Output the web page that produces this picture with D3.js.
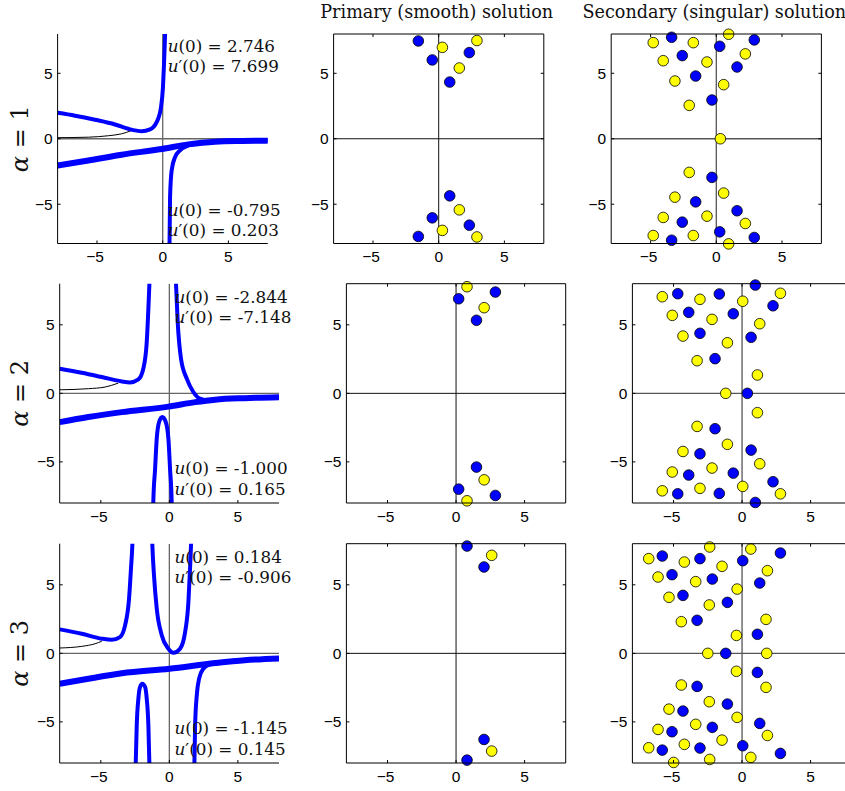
<!DOCTYPE html>
<html>
<head>
<meta charset="utf-8">
<script src="https://cdn.jsdelivr.net/npm/d3@7"></script>
<style>
  body { margin: 0; background: #fff; }
  svg { display: block; }
</style>
</head>
<body>
<div id="chart"></div>
<script>
// ---- data ---------------------------------------------------------
const TICKS = [-5, 0, 5];
const ALPHAS = [1, 2, 3];
const COL_TITLES = ["", "Primary (smooth) solution", "Secondary (singular) solution"];

// alpha = 1 : real-axis solutions
const a1Upper = [[-8,1.98],[-6.67,1.76],[-5.15,1.45],[-3.63,1.09],[-2.62,0.76],[-1.6,0.58],[-0.97,0.71],[-0.46,1.27],[-0.13,2.41],[0.02,3.94],[0.1,5.72],[0.18,8.0],[0.19,8.4]];
const a1Right = [[0.5,-8.4],[0.52,-8],[0.56,-4.46],[0.68,-2.42],[0.94,-1.4],[1.32,-0.89],[1.95,-0.51],[2.97,-0.31],[3.98,-0.22],[5.5,-0.17],[8,-0.14]];
const a1Lower = [[-8,-2.04],[-5.66,-1.66],[-3.12,-1.22],[-0.08,-0.78],[1.95,-0.43],[3,-0.3],[4,-0.22],[6,-0.17],[8,-0.15]];
const a1Thin  = [[-8,0.08],[-5.66,0.12],[-4.14,0.23],[-3.12,0.38],[-2.36,0.63]];

// alpha = 2
const a2Left  = [[-8,1.8],[-6.39,1.5],[-4.93,1.19],[-3.47,0.87],[-2.87,0.8],[-2.26,1.02],[-1.9,1.8],[-1.65,3.74],[-1.53,6.18],[-1.46,7.88],[-1.44,8.4]];
const a2Right = [[0.47,8.4],[0.49,7.88],[0.61,5.2],[0.85,2.53],[1.27,1.07],[1.75,0.1],[2.24,-0.39],[2.85,-0.51],[3.3,-0.47],[5,-0.36],[8,-0.29]];
const a2Arch  = [[-1.18,-8.4],[-1.17,-7.93],[-1.04,-5.5],[-0.92,-3.31],[-0.75,-2.1],[-0.51,-1.73],[-0.26,-2.1],[-0.07,-3.31],[0.05,-5.5],[0.17,-7.93],[0.18,-8.4]];
const a2Lower = [[-8,-2.1],[-5.91,-1.73],[-3.47,-1.37],[-0.07,-0.97],[1.88,-0.64],[3.34,-0.46],[5.5,-0.35],[8,-0.29]];
const a2Thin  = [[-8,0.26],[-5.91,0.34],[-4.69,0.46],[-3.72,0.75]];

// alpha = 3
const a3Left  = [[-8,1.75],[-6.39,1.43],[-4.93,1.07],[-4.2,0.99],[-3.6,1.19],[-3.23,2.04],[-2.94,3.99],[-2.8,6.18],[-2.7,7.88],[-2.68,8.4]];
const a3U     = [[-1.26,8.4],[-1.24,7.88],[-1.12,5.69],[-0.92,3.26],[-0.55,1.31],[-0.07,0.34],[0.29,0.04],[0.78,0.34],[1.15,1.55],[1.39,3.74],[1.51,6.18],[1.58,7.88],[1.6,8.4]];
const a3Arch  = [[-2.46,-8.4],[-2.45,-7.93],[-2.38,-5.26],[-2.26,-3.31],[-2.14,-2.46],[-1.97,-2.22],[-1.77,-2.46],[-1.65,-3.31],[-1.53,-5.26],[-1.46,-7.93],[-1.45,-8.4]];
const a3Right = [[1.82,-8.4],[1.83,-7.93],[1.88,-5.26],[2.0,-3.07],[2.17,-1.85],[2.48,-1.12],[2.97,-0.8],[3.34,-0.71],[5,-0.52],[8,-0.37]];
const a3Lower = [[-8,-2.22],[-5.91,-1.85],[-3.47,-1.45],[0,-1.12],[3.34,-0.71],[5.5,-0.5],[8,-0.37]];
const a3Thin  = [[-8,0.39],[-6.39,0.51],[-5.42,0.7],[-4.93,0.88]];

// initial values printed on the left panels
const initTop = [["2.746","7.699"], ["-2.844","-7.148"], ["0.184","-0.906"]];
const initBot = [["-0.795","0.203"], ["-1.000","0.165"], ["-1.145","0.145"]];

// complex-plane singularities (x = Re, y = Im)
const p1Blue   = [[-1.55,7.47],[-0.49,6.02],[2.33,6.58],[0.84,4.33],[0.84,-4.36],[-0.49,-6.04],[2.33,-6.6],[-1.55,-7.46]];
const p1Yellow = [[0.28,6.98],[2.91,7.5],[1.57,5.4],[1.57,-5.43],[0.28,-7.0],[2.91,-7.5]];
const s1Blue   = [[-3.4,7.75],[2.89,7.55],[0.26,7.06],[-2.59,6.35],[1.58,5.48],[-1.57,4.79],[-0.33,2.96],[-0.33,-2.95],[-1.57,-4.82],[1.58,-5.5],[-2.59,-6.37],[0.26,-7.11],[2.89,-7.54],[-3.4,-7.75]];
const s1Yellow = [[0.94,7.98],[-4.8,7.34],[-1.75,7.34],[2.21,6.48],[-4.04,5.96],[-0.71,5.86],[-3.15,4.41],[0.56,4.13],[-2.06,2.55],[0.31,0],[-2.06,-2.57],[0.56,-4.15],[-3.15,-4.46],[-4.04,-6.01],[-0.71,-5.91],[2.21,-6.47],[-4.8,-7.39],[-1.75,-7.39],[0.94,-8.03]];

const p2Blue   = [[0.19,6.9],[2.87,7.39],[1.49,5.33],[1.49,-5.38],[0.19,-6.99],[2.87,-7.45]];
const p2Yellow = [[0.8,7.78],[2.05,6.25],[2.05,-6.31],[0.8,-7.84]];
const s2Blue   = [[0.97,7.9],[-4.69,7.27],[-1.66,7.25],[2.26,6.39],[-3.89,5.91],[-0.64,5.81],[-3.07,4.38],[0.66,4.09],[-1.97,2.53],[0.39,0],[-1.97,-2.58],[0.66,-4.14],[-3.07,-4.41],[-3.89,-5.96],[-0.64,-5.82],[2.26,-6.45],[-4.69,-7.33],[-1.66,-7.3],[0.97,-7.96]];
const s2Yellow = [[-5.82,7.05],[-3.07,6.86],[0.05,6.72],[2.8,7.3],[-5.09,5.69],[-2.19,5.4],[1.29,5.08],[-4.31,4.18],[-1.07,3.69],[-3.28,2.38],[1.12,1.34],[-1.19,0],[1.12,-1.41],[-3.28,-2.41],[-1.07,-3.72],[-4.31,-4.24],[1.29,-5.14],[-2.19,-5.45],[-5.09,-5.74],[0.05,-6.79],[-5.82,-7.11],[-3.07,-6.93],[2.8,-7.33]];

const p3Blue   = [[0.8,7.83],[2.04,6.3],[2.04,-6.28],[0.8,-7.79]];
const p3Yellow = [[2.6,7.15],[2.6,-7.13]];
const s3Blue   = [[-5.82,7.1],[-3.07,6.91],[0.05,6.76],[2.8,7.32],[-5.11,5.74],[-2.17,5.42],[1.29,5.13],[-4.31,4.23],[-1.07,3.72],[-3.28,2.41],[1.12,1.39],[-1.19,0],[1.12,-1.39],[-3.28,-2.41],[-1.07,-3.7],[-4.31,-4.21],[1.29,-5.11],[-2.17,-5.4],[-5.11,-5.72],[-5.82,-7.06],[-3.07,-6.91],[0.05,-6.74],[2.8,-7.3]];
const s3Yellow = [[-2.36,7.76],[0.64,7.61],[-6.81,6.91],[-4.21,6.66],[-1.46,6.35],[1.85,6.03],[-6.13,5.57],[-3.38,5.23],[-0.36,4.69],[-5.33,4.09],[-2.39,3.53],[1.75,2.48],[-4.43,2.31],[-0.41,1.31],[-2.5,0],[1.8,0],[-0.41,-1.31],[-4.43,-2.31],[1.75,-2.48],[-2.39,-3.53],[-5.33,-4.07],[-0.36,-4.67],[-3.38,-5.18],[-6.13,-5.55],[1.85,-5.99],[-1.46,-6.33],[-6.81,-6.89],[-4.21,-6.64],[0.64,-7.59],[-2.36,-7.74],[-4.99,-7.96]];

const realCurves = [
  { thick: [a1Lower], branches: [a1Upper, a1Right], thin: a1Thin },
  { thick: [a2Lower], branches: [a2Left, a2Right, a2Arch], thin: a2Thin },
  { thick: [a3Lower], branches: [a3Left, a3U, a3Arch, a3Right], thin: a3Thin }
];
const poles = [
  [{ blue: p1Blue, yellow: p1Yellow }, { blue: s1Blue, yellow: s1Yellow }],
  [{ blue: p2Blue, yellow: p2Yellow }, { blue: s2Blue, yellow: s2Yellow }],
  [{ blue: p3Blue, yellow: p3Yellow }, { blue: s3Blue, yellow: s3Yellow }]
];

// ---- layout ---------------------------------------------------------
const W = 845, H = 791;
// pixel boxes of each panel: [x0, x1] per column, [y0, y1] per row
const rowBox = [[34, 243.5], [283.7, 503], [543.7, 763]];
const colBox = [
  [[57.6, 267.8], [333.6, 543.8], [611.2, 821.4]],
  [[59.7, 279],   [346.4, 565.7], [632.4, 851.7]],
  [[59.7, 279],   [346.4, 565.7], [632.4, 851.7]]
];

const BLUE = "#0000ff", YELLOW = "#ffff00";
const TICK_FONT = "'Liberation Sans', Arial, sans-serif";
const MATH_FONT = "'DejaVu Serif', serif";

const svg = d3.select("#chart").append("svg")
  .attr("width", W).attr("height", H)
  .attr("viewBox", `0 0 ${W} ${H}`);

const defs = svg.append("defs");

// column titles
[1, 2].forEach(c => {
  const [x0, x1] = colBox[0][c];
  svg.append("text")
    .attr("x", (x0 + x1) / 2 - 2).attr("y", 18)
    .attr("text-anchor", "middle")
    .attr("font-family", MATH_FONT).attr("font-size", 17.6)
    .attr("fill", "#111")
    .text(COL_TITLES[c]);
});

function axes(g, x, y, boxed) {
  const [x0, x1] = x.range(), [y1, y0] = y.range();
  const line = (a, b, c, d, col = "#000", w = 1) =>
    g.append("line").attr("x1", a).attr("y1", b).attr("x2", c).attr("y2", d)
      .attr("stroke", col).attr("stroke-width", w);

  // spines
  line(x0, y0, x0, y1); line(x0, y1, x1, y1);
  if (boxed) { line(x0, y0, x1, y0); line(x1, y0, x1, y1); }

  // inward ticks
  TICKS.forEach(t => {
    line(x(t), y1, x(t), y1 - 3);
    line(x0, y(t), x0 + 3, y(t));
    if (boxed) { line(x(t), y0, x(t), y0 + 3); line(x1, y(t), x1 - 3, y(t)); }
  });

  // tick labels
  const fmt = t => t < 0 ? "\u2212" + Math.abs(t) : String(t);
  g.selectAll(".xl").data(TICKS).join("text")
    .attr("x", t => x(t) - (t < 0 ? 2 : 0)).attr("y", y1 + 18.5)
    .attr("text-anchor", "middle")
    .attr("font-family", TICK_FONT).attr("font-size", 15.5)
    .text(fmt);
  g.selectAll(".yl").data(TICKS).join("text")
    .attr("x", x0 - 5).attr("y", t => y(t) + 5.5)
    .attr("text-anchor", "end")
    .attr("font-family", TICK_FONT).attr("font-size", 15.5)
    .text(fmt);
}

function mathLabel(g, x, y, prime, value) {
  const t = g.append("text").attr("x", x).attr("y", y)
    .attr("font-family", MATH_FONT).attr("font-size", 16.8).attr("fill", "#111");
  t.append("tspan").attr("font-style", "italic").text("u");
  t.append("tspan").text((prime ? "\u2032" : "") + "(0) = " + value);
}

ALPHAS.forEach((alpha, r) => {
  const [py0, py1] = rowBox[r];

  // row label, rotated
  svg.append("text")
    .attr("transform", `translate(28,${(py0 + py1) / 2}) rotate(-90)`)
    .attr("text-anchor", "middle")
    .attr("font-family", MATH_FONT).attr("font-size", 24)
    .attr("fill", "#111")
    .html(`<tspan font-style="italic">α</tspan> = ${alpha}`);

  [0, 1, 2].forEach(c => {
    const [px0, px1] = colBox[r][c];
    const x = d3.scaleLinear([-8, 8], [px0, px1]);
    const y = d3.scaleLinear([-8, 8], [py1, py0]);
    const g = svg.append("g");

    const clipId = `clip-${r}-${c}`;
    defs.append("clipPath").attr("id", clipId).append("rect")
      .attr("x", px0).attr("y", py0).attr("width", px1 - px0).attr("height", py1 - py0);
    const plot = g.append("g").attr("clip-path", `url(#${clipId})`);

    // zero lines
    const zc = c === 0 ? "#666" : (c === 1 ? "#111" : "#555");
    const zw = c === 1 ? 1 : 1.3;
    plot.append("line").attr("x1", px0).attr("x2", px1).attr("y1", y(0)).attr("y2", y(0))
      .attr("stroke", zc).attr("stroke-width", zw);
    plot.append("line").attr("x1", x(0)).attr("x2", x(0)).attr("y1", py0).attr("y2", py1)
      .attr("stroke", zc).attr("stroke-width", zw);

    if (c === 0) {
      const rc = realCurves[r];
      const line = d3.line().x(d => x(d[0])).y(d => y(d[1])).curve(d3.curveMonotoneX);
      plot.append("path").attr("d", line(rc.thin))
        .attr("fill", "none").attr("stroke", "#000").attr("stroke-width", 1);
      rc.thick.forEach(d => plot.append("path").attr("d", line(d))
        .attr("fill", "none").attr("stroke", BLUE).attr("stroke-width", 6));
      rc.branches.forEach(d => plot.append("path").attr("d", line(d))
        .attr("fill", "none").attr("stroke", BLUE).attr("stroke-width", 4)
        .attr("stroke-linejoin", "round"));

      const lx = x(0.38);
      mathLabel(g, lx, y(6.6), false, initTop[r][0]);
      mathLabel(g, lx, y(5.1), true,  initTop[r][1]);
      mathLabel(g, lx, y(-5.9), false, initBot[r][0]);
      mathLabel(g, lx, y(-7.4), true,  initBot[r][1]);
    } else {
      const set = poles[r][c - 1];
      [[set.blue, BLUE], [set.yellow, YELLOW]].forEach(([pts, col]) => {
        g.append("g").selectAll("circle").data(pts).join("circle")
          .attr("cx", d => x(d[0])).attr("cy", d => y(d[1])).attr("r", 5.3)
          .attr("fill", col).attr("stroke", "#000").attr("stroke-width", 0.8);
      });
    }

    axes(g, x, y, c !== 0);
  });
});
</script>
</body>
</html>
